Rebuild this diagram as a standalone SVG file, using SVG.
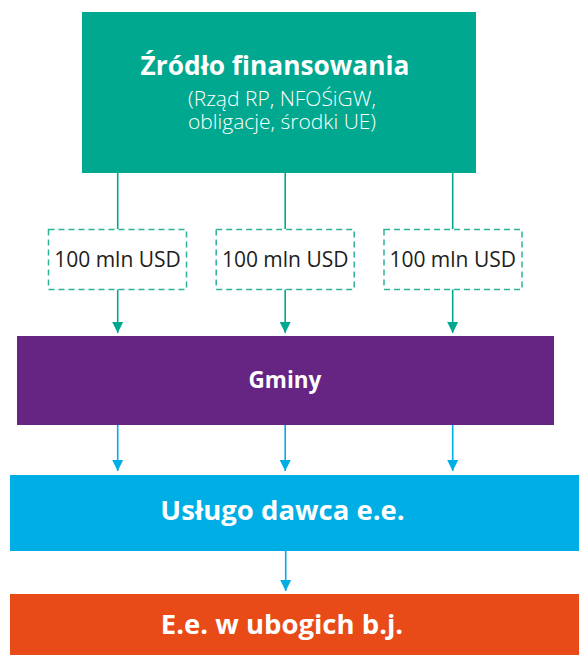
<svg xmlns="http://www.w3.org/2000/svg" width="579" height="655" viewBox="0 0 579 655">
<style>
.t{font-family:"Open Sans","Liberation Sans",sans-serif;text-anchor:middle}
.b{font-weight:700;fill:#fff}
.l{font-weight:300;fill:#fff}
.amt{font-family:"Open Sans","Liberation Sans",sans-serif;font-size:21px;fill:#1d1d1b;text-anchor:middle}
.dash{fill:#fff;stroke:#2db29a;stroke-width:1.5;stroke-dasharray:6 4}
.g{stroke:#00a88f;stroke-width:1.6;fill:none}
.c{stroke:#00aee6;stroke-width:1.6;fill:none}
</style>
<defs>
<marker id="ag" markerWidth="12" markerHeight="12" refX="11" refY="6" orient="auto" markerUnits="userSpaceOnUse" viewBox="0 0 12 12"><path d="M0,0.5 L11,6 L0,11.5 Z" fill="#00a88f"/></marker>
<marker id="ab" markerWidth="12" markerHeight="12" refX="11" refY="6" orient="auto" markerUnits="userSpaceOnUse" viewBox="0 0 12 12"><path d="M0,0.5 L11,6 L0,11.5 Z" fill="#00aee6"/></marker>
</defs>
<g id="connectors">
<line class="g" x1="117.7" y1="172" x2="117.7" y2="229"/>
<line class="g" x1="285.2" y1="172" x2="285.2" y2="229"/>
<line class="g" x1="452.7" y1="172" x2="452.7" y2="229"/>
<path d="M117.7,289 V333" class="g" marker-end="url(#ag)"/>
<path d="M285.2,289 V333" class="g" marker-end="url(#ag)"/>
<path d="M452.7,289 V333" class="g" marker-end="url(#ag)"/>
<path d="M117.7,425 V471" class="c" marker-end="url(#ab)"/>
<path d="M285.2,425 V471" class="c" marker-end="url(#ab)"/>
<path d="M452.7,425 V471" class="c" marker-end="url(#ab)"/>
<path d="M285.7,551 V591" class="c" marker-end="url(#ab)"/>
</g>
<g id="zrodlo">
<rect x="82" y="12" width="394" height="161" fill="#00a88f"/>
<text class="t b" x="275" y="75" font-size="26.3">Źródło finansowania</text>
<text class="t l" font-size="21"><tspan x="282" y="106">(Rząd RP, NFOŚiGW,</tspan><tspan x="282" y="129">obligacje, środki UE)</tspan></text>
</g>
<g id="kwota1">
<rect class="dash" x="48.5" y="229.5" width="138" height="60"/>
<text class="amt" x="117.5" y="266.5">100 mln USD</text>
</g>
<g id="kwota2">
<rect class="dash" x="216.2" y="229.5" width="138" height="60"/>
<text class="amt" x="285.2" y="266.5">100 mln USD</text>
</g>
<g id="kwota3">
<rect class="dash" x="384" y="229.5" width="138" height="60"/>
<text class="amt" x="452.7" y="266.5">100 mln USD</text>
</g>
<g id="gminy">
<rect x="17" y="336" width="537" height="89" fill="#662483"/>
<text class="t b" x="285" y="388" font-size="22.5">Gminy</text>
</g>
<g id="uslugodawca">
<rect x="10" y="475" width="569" height="76" fill="#00aee6"/>
<text class="t b" x="282.5" y="520" font-size="27.5">Usługo dawca e.e.</text>
</g>
<g id="ee">
<rect x="10" y="594" width="569" height="61" fill="#e84a18"/>
<text class="t b" x="282" y="634" font-size="27.5">E.e. w ubogich b.j.</text>
</g>
</svg>
